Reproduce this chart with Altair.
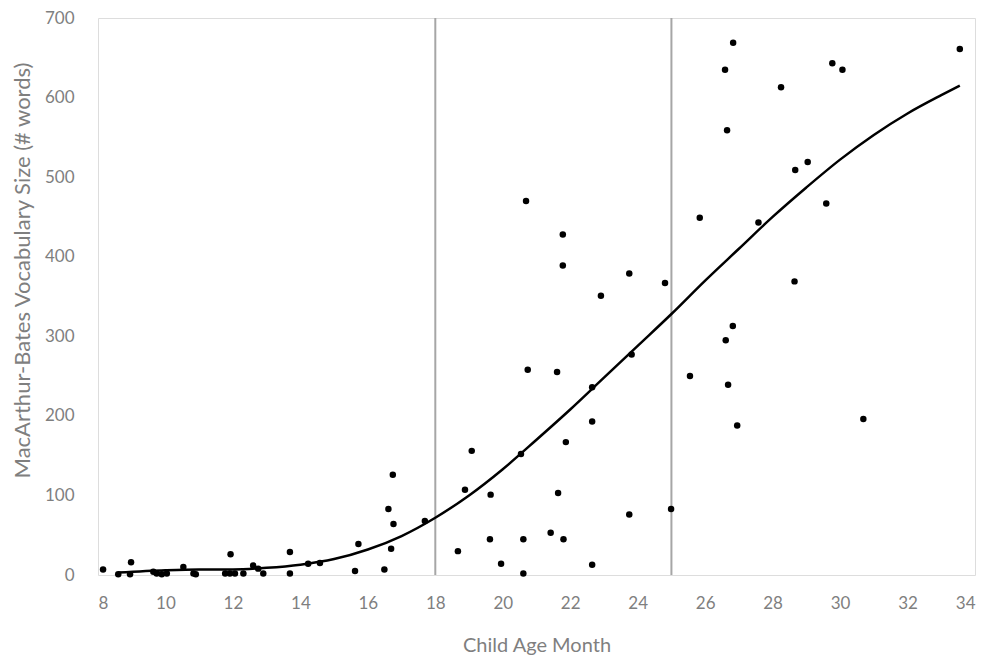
import altair as alt
import pandas as pd

# Scatter points: child age (months) and vocabulary size (# words)
age = [8.15, 8.6, 8.98, 8.95, 9.64, 9.74, 9.89, 10.04, 10.53, 10.83, 10.9,
       11.77, 11.93, 11.91, 12.06, 12.31, 12.6, 12.75, 12.9, 13.69, 13.69,
       14.23, 14.58, 15.62, 15.72, 16.49, 16.61, 16.69, 16.74, 16.76, 17.69,
       18.67, 18.88, 19.08, 19.62, 19.64, 19.95, 20.54, 20.61, 20.61, 20.69,
       20.74, 21.42, 21.61, 21.64, 21.78, 21.78, 21.8, 21.87, 22.65, 22.65,
       22.65, 22.91, 23.75, 23.75, 23.82, 24.81, 24.99, 25.55, 25.84, 26.59,
       26.61, 26.65, 26.68, 26.82, 26.83, 26.95, 27.58, 28.25, 28.65, 28.67,
       29.04, 29.59, 29.77, 30.07, 30.69, 33.55]
words = [7, 1, 16, 1, 4, 2, 1, 2, 10, 2, 1,
         2, 26, 2, 2, 2, 12, 8, 2, 29, 2,
         14, 15, 5, 39, 7, 83, 33, 126, 64, 68,
         30, 107, 156, 45, 101, 14, 152, 45, 2, 470,
         258, 53, 255, 103, 428, 389, 45, 167, 236, 193,
         13, 351, 379, 76, 277, 367, 83, 250, 449, 635,
         295, 559, 239, 313, 669, 188, 443, 613, 369, 509,
         519, 467, 643, 635, 196, 661]

# Fitted trend curve
curve_age = [8.6, 10, 11, 12, 13, 14, 15, 16, 17, 18, 19, 20, 21, 22, 23, 24,
             25, 26, 27, 28, 29, 30, 31, 32, 33, 33.55]
curve_words = [3, 6, 7, 7, 9, 13, 20, 32, 49, 72, 100, 133, 170, 208, 248, 288,
               328, 370, 410, 450, 487, 522, 553, 580, 603, 615]

# Vertical reference lines
ref_months = [18, 25]

x_ticks = list(range(8, 35, 2))
y_ticks = list(range(0, 701, 100))

pts = pd.DataFrame({"age": age, "words": words})
crv = pd.DataFrame({"age": curve_age, "words": curve_words})
refs = pd.DataFrame({"age": ref_months})

FONT = "Lato"
GRAY = "#7f7f7f"

xscale = alt.Scale(domain=[8, 34], nice=False, zero=False)
yscale = alt.Scale(domain=[0, 700], nice=False)

xaxis = alt.Axis(values=x_ticks, grid=False, ticks=False, tickSize=0, domain=False,
                 labelFont=FONT, labelFontSize=17, labelColor=GRAY, labelPadding=20,
                 title="Child Age Month", titleFont=FONT, titleFontSize=20,
                 titleFontWeight="normal", titleColor=GRAY, titlePadding=24)
yaxis = alt.Axis(values=y_ticks, grid=False, ticks=False, tickSize=0, domain=False,
                 labelFont=FONT, labelFontSize=17, labelColor=GRAY, labelPadding=24,
                 title="MacArthur-Bates Vocabulary Size (# words)", titleFont=FONT,
                 titleFontSize=22, titleFontWeight="normal", titleColor=GRAY,
                 titleAngle=270, titleAlign="center", titleBaseline="middle",
                 titleX=-76, titleY=252)

rules = alt.Chart(refs).mark_rule(color="#a6a6a6", strokeWidth=2).encode(
    x=alt.X("age:Q", scale=xscale, axis=xaxis)
)

points = alt.Chart(pts).mark_circle(color="black", size=42, opacity=1).encode(
    x=alt.X("age:Q", scale=xscale, axis=xaxis),
    y=alt.Y("words:Q", scale=yscale, axis=yaxis),
)

line = alt.Chart(crv).mark_line(color="black", strokeWidth=2.5,
                                interpolate="monotone").encode(
    x=alt.X("age:Q", scale=xscale, axis=xaxis),
    y=alt.Y("words:Q", scale=yscale, axis=yaxis),
)

chart = alt.layer(rules, line, points).properties(
    width=877, height=557,
    autosize=alt.AutoSizeParams(type="none"),
    padding={"left": 90, "top": 10, "right": 14, "bottom": 80},
).configure_view(stroke="#a6a6a6", strokeWidth=2).configure(background="white")

chart.save("out.html", embed_options={"renderer": "svg", "actions": False})
